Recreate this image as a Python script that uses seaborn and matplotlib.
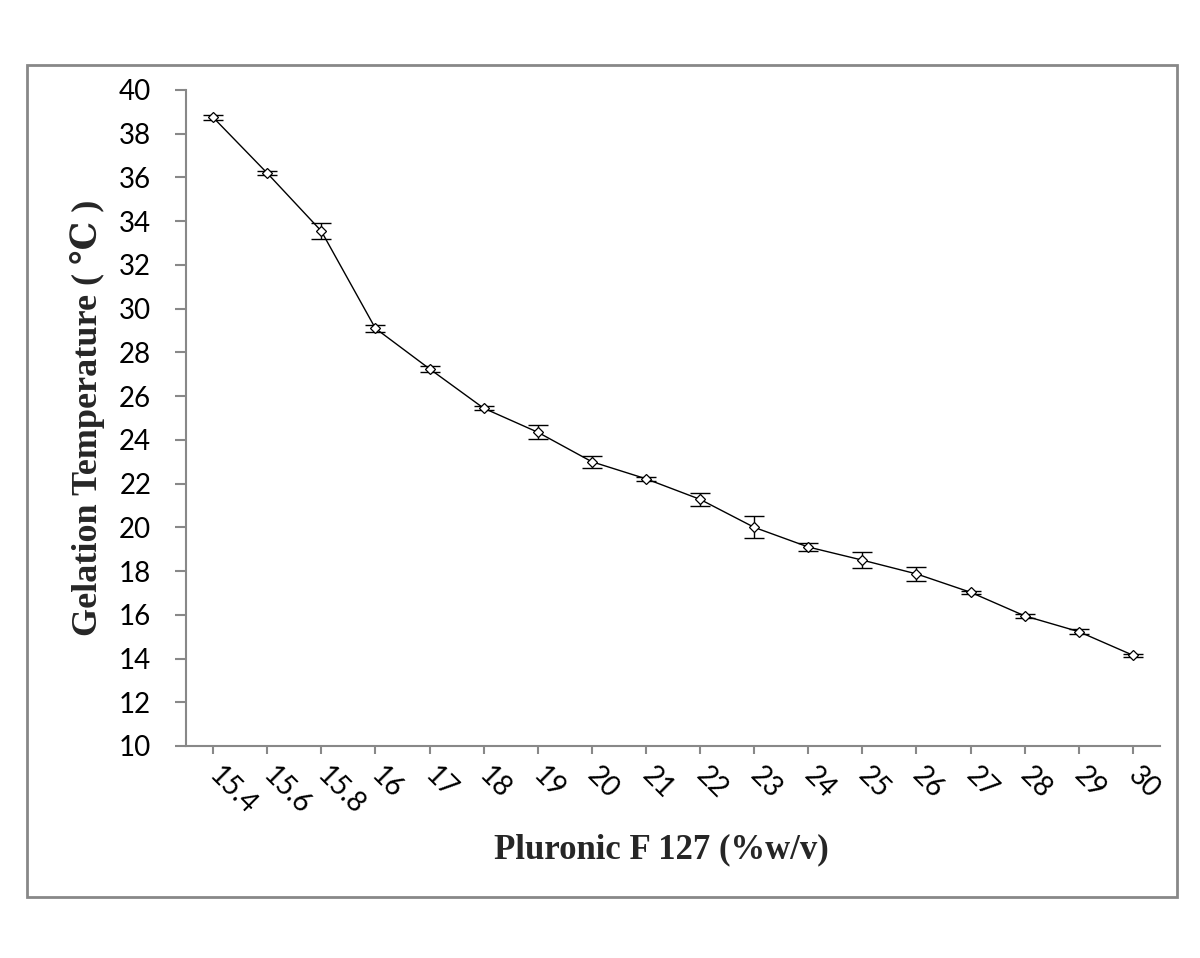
import matplotlib
matplotlib.use("Agg")
import matplotlib.pyplot as plt
import seaborn as sns
import pandas as pd
from matplotlib.patches import Rectangle

# Data
concentrations = ["15.4", "15.6", "15.8", "16", "17", "18", "19", "20", "21",
                  "22", "23", "24", "25", "26", "27", "28", "29", "30"]
gel_temp = [38.75, 36.2, 33.55, 29.1, 27.25, 25.45, 24.35, 23.0, 22.22,
            21.28, 20.0, 19.1, 18.5, 17.87, 17.03, 15.95, 15.23, 14.15]
gel_err = [0.12, 0.1, 0.38, 0.15, 0.14, 0.08, 0.32, 0.27, 0.08,
           0.3, 0.5, 0.2, 0.37, 0.33, 0.08, 0.1, 0.12, 0.06]
y_ticks = list(range(10, 41, 2))

df = pd.DataFrame({"conc": concentrations, "temp": gel_temp, "err": gel_err})

sns.set_theme(style="white")
plt.rcParams["font.family"] = ["Lato", "DejaVu Sans"]

fig = plt.figure(figsize=(12, 9.58), dpi=100)
fig.patch.set_facecolor("white")
ax = fig.add_axes([186 / 1200, 1 - 746 / 958, (1160 - 186) / 1200, (746 - 90) / 958])

sns.pointplot(data=df, x="conc", y="temp", order=concentrations, errorbar=None,
              color="black", markers="D", linestyles="-", ax=ax,
              markersize=5.5, markerfacecolor="white", markeredgecolor="black",
              markeredgewidth=0.9, linewidth=1.0)
ax.errorbar(x=range(len(concentrations)), y=df["temp"], yerr=df["err"],
            fmt="none", ecolor="black", elinewidth=1.0, capsize=7, capthick=1.0, zorder=1)

ax.set_xlim(-0.5, len(concentrations) - 0.5)
ax.set_ylim(10, 40)
ax.set_yticks(y_ticks)
ax.set_yticklabels([str(v) for v in y_ticks], fontsize=20)

for side in ["top", "right"]:
    ax.spines[side].set_visible(False)
for side in ["left", "bottom"]:
    ax.spines[side].set_color("#888888")
    ax.spines[side].set_linewidth(1.5)

ax.tick_params(axis="y", which="major", left=True, length=8, width=1.5, color="#888888",
               pad=17, labelsize=20, labelcolor="black")
ax.tick_params(axis="x", which="major", bottom=True, length=6, width=1.5, color="#888888",
               pad=12, labelsize=20, labelcolor="black")
for lab in ax.get_xticklabels():
    lab.set_rotation(-45)
    lab.set_ha("left")
    lab.set_va("center")
    lab.set_rotation_mode("anchor")

ax.set_xlabel("Pluronic F 127 (%w/v)", family=["Liberation Serif", "DejaVu Serif"],
              fontsize=25, fontweight="bold")
ax.set_ylabel("Gelation Temperature ( \u2103 )", family=["Liberation Serif", "DejaVu Serif"],
              fontsize=26, fontweight="bold")
ax.xaxis.set_label_coords((661 - 186) / 974, -(850 - 746) / 656)
ax.yaxis.set_label_coords(-(186 - 88) / 974, 0.5)
ax.xaxis.label.set_va("center")
ax.yaxis.label.set_va("center")
ax.grid(False)

fig.patches.append(Rectangle((27 / 1200, 1 - 897 / 958), 1150 / 1200, 832 / 958,
                             transform=fig.transFigure, fill=False,
                             edgecolor="#888888", linewidth=2.0))

fig.savefig("out.png", dpi=100, facecolor="white")
